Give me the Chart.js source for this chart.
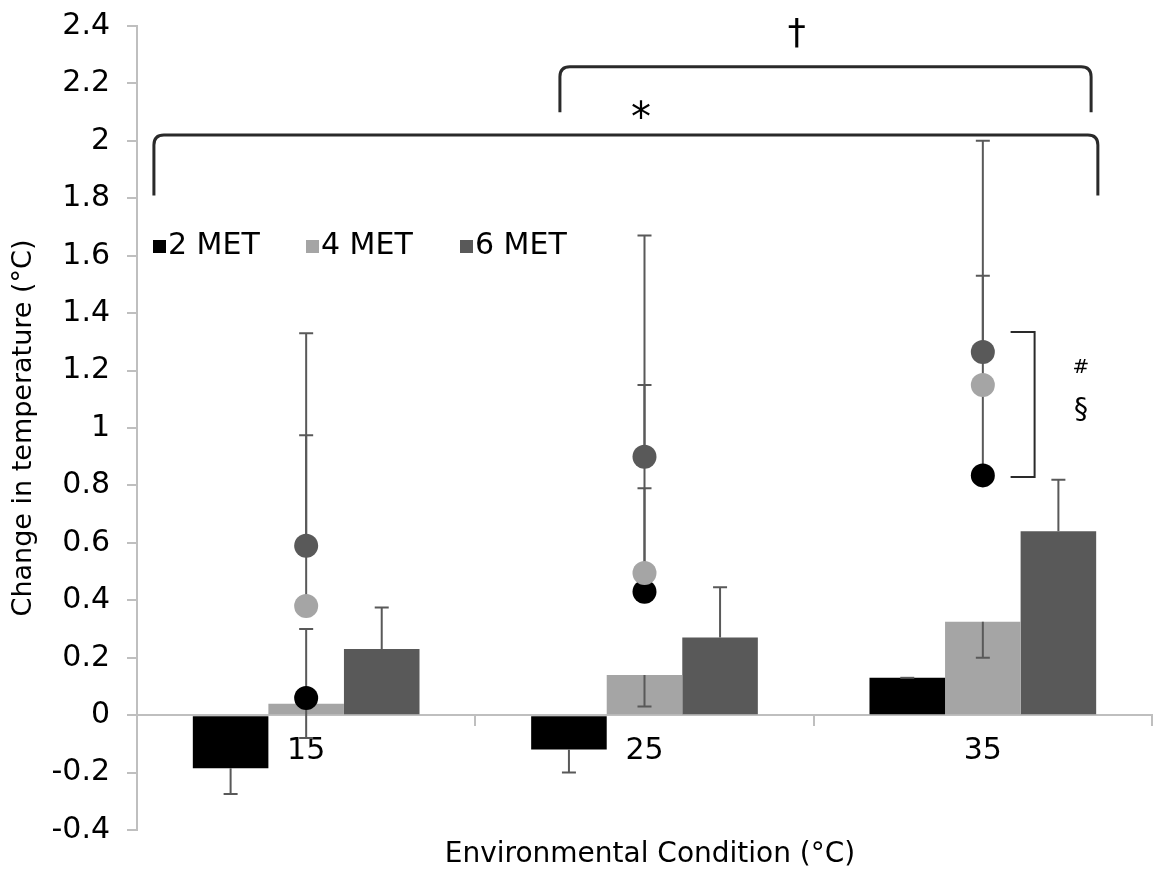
<!DOCTYPE html>
<html>
<head>
<meta charset="utf-8">
<script src="https://cdn.jsdelivr.net/npm/chart.js@4.4.1/dist/chart.umd.min.js"></script>
<style>
  body { margin: 0; background: #fff; }
  #wrap { width: 1164px; height: 872px; position: relative; }
</style>
</head>
<body>
<div id="wrap"><canvas id="chartOne"></canvas></div>
<script>
const conditions = ['15', '25', '35'];
const seriesNames = ['2 MET', '4 MET', '6 MET'];

// bars (mean change) and the end of each bar's error bar
const bar2 = [-0.185, -0.12, 0.13];
const bar4 = [0.04, 0.14, 0.325];
const bar6 = [0.23, 0.27, 0.64];
const bar2ErrEnd = [-0.275, -0.20, 0.13];
const bar4ErrEnd = [-0.08, 0.03, 0.20];
const bar6ErrEnd = [0.375, 0.445, 0.82];

// circles and the end of each circle's error bar
const dot2 = [0.06, 0.43, 0.835];
const dot4 = [0.38, 0.495, 1.15];
const dot6 = [0.59, 0.90, 1.265];
const dot2ErrEnd = [0.30, 0.79, 1.13];
const dot4ErrEnd = [0.975, 1.15, 1.53];
const dot6ErrEnd = [1.33, 1.67, 2.0];

const yTicks = [-0.4, -0.2, 0, 0.2, 0.4, 0.6, 0.8, 1, 1.2, 1.4, 1.6, 1.8, 2, 2.2, 2.4];

const colors = ['#000000', '#a5a5a5', '#595959'];
const FONT = "'DejaVu Sans', sans-serif";

Chart.defaults.font.family = FONT;
Chart.defaults.color = '#000';

const bars = [bar2, bar4, bar6];
const barErr = [bar2ErrEnd, bar4ErrEnd, bar6ErrEnd];
const dots = [dot2, dot4, dot6];
const dotErr = [dot2ErrEnd, dot4ErrEnd, dot6ErrEnd];

const datasets = [];
bars.forEach((d, i) => {
    datasets.push({
        type: 'bar',
        label: seriesNames[i],
        data: d,
        backgroundColor: colors[i],
        barPercentage: 1,
        categoryPercentage: 0.67,
        order: 10,
    });
});
dots.forEach((d, i) => {
    datasets.push({
        type: 'line',
        label: seriesNames[i],
        data: d,
        showLine: false,
        pointRadius: 12,
        pointBackgroundColor: colors[i],
        pointBorderColor: colors[i],
        pointBorderWidth: 0,
        order: 3 - i,
    });
});

function drawErr(ctx, x, y0, y1) {
    ctx.beginPath();
    ctx.moveTo(x, y0);
    ctx.lineTo(x, y1);
    ctx.moveTo(x - 7, y1);
    ctx.lineTo(x + 7, y1);
    ctx.stroke();
}

const errorBars = {
    id: 'errorBars',
    beforeDatasetDraw(chart, args) {
        if (args.index !== 3) return;
        const ctx = chart.ctx;
        const y = chart.scales.y;
        ctx.save();
        ctx.strokeStyle = '#595959';
        ctx.lineWidth = 2;
        barErr.forEach((ends, i) => {
            const meta = chart.getDatasetMeta(i);
            ends.forEach((v, j) => {
                drawErr(ctx, meta.data[j].x, y.getPixelForValue(bars[i][j]), y.getPixelForValue(v));
            });
        });
        dotErr.forEach((ends, i) => {
            const meta = chart.getDatasetMeta(3 + i);
            ends.forEach((v, j) => {
                drawErr(ctx, meta.data[j].x, y.getPixelForValue(dots[i][j]), y.getPixelForValue(v));
            });
        });
        ctx.restore();
    },
};

function bracket(ctx, xl, xr, yTop, yEnd) {
    const r = 10;
    ctx.beginPath();
    ctx.moveTo(xl, yEnd);
    ctx.quadraticCurveTo(xl, yTop + r * 2, xl, yTop + r);
    ctx.quadraticCurveTo(xl, yTop, xl + r, yTop);
    ctx.lineTo(xr - r, yTop);
    ctx.quadraticCurveTo(xr, yTop, xr, yTop + r);
    ctx.lineTo(xr, yEnd);
    ctx.stroke();
}

const extras = {
    id: 'extras',
    afterDraw(chart) {
        const ctx = chart.ctx;
        const x = chart.scales.x;
        const y = chart.scales.y;
        ctx.save();
        ctx.strokeStyle = '#2a2a2a';
        ctx.lineWidth = 3;

        // significance brackets
        bracket(ctx, x.getPixelForValue(-0.45), x.getPixelForValue(2.34), y.getPixelForValue(2.02), y.getPixelForValue(1.81));
        bracket(ctx, x.getPixelForValue(0.75), x.getPixelForValue(2.32), y.getPixelForValue(2.258), y.getPixelForValue(2.1));

        ctx.lineWidth = 2;
        const bx = x.getPixelForValue(2.153);
        const top = y.getPixelForValue(1.334);
        const bot = y.getPixelForValue(0.829);
        ctx.beginPath();
        ctx.moveTo(bx - 24, top);
        ctx.lineTo(bx, top);
        ctx.lineTo(bx, bot);
        ctx.lineTo(bx - 24, bot);
        ctx.stroke();

        ctx.fillStyle = '#000';
        ctx.textAlign = 'center';
        ctx.textBaseline = 'middle';
        ctx.font = '40px ' + FONT;
        ctx.fillText('*', x.getPixelForValue(0.99), y.getPixelForValue(2.07));
        ctx.font = '36px ' + FONT;
        ctx.fillText('†', x.getPixelForValue(1.45), y.getPixelForValue(2.37));
        ctx.font = '20px ' + FONT;
        ctx.fillText('#', x.getPixelForValue(2.29), y.getPixelForValue(1.21));
        ctx.font = '28px ' + FONT;
        ctx.fillText('§', x.getPixelForValue(2.29), y.getPixelForValue(1.06));

        // legend
        ctx.textAlign = 'left';
        ctx.font = '30px ' + FONT;
        const lx = [153, 306, 460];
        seriesNames.forEach((name, i) => {
            ctx.fillStyle = colors[i];
            ctx.fillRect(lx[i], 240, 13, 13);
            ctx.fillStyle = '#000';
            ctx.fillText(name, lx[i] + 15, 246);
        });

        // x axis title
        ctx.textAlign = 'center';
        ctx.font = '28px ' + FONT;
        ctx.fillText('Environmental Condition (°C)', 650, 855);
        ctx.restore();
    },
};

new Chart(document.getElementById('chartOne').getContext('2d'), {
    type: 'bar',
    data: { labels: conditions, datasets: datasets },
    plugins: [errorBars, extras],
    options: {
        responsive: true,
        maintainAspectRatio: false,
        animation: false,
        layout: { padding: { top: 26, right: 9, bottom: 42, left: 0 } },
        plugins: { legend: { display: false }, tooltip: { enabled: false } },
        scales: {
            x: {
                position: { y: 0 },
                grid: { drawOnChartArea: false, offset: true, tickLength: 10, color: '#bfbfbf', lineWidth: 2 },
                border: { color: '#bfbfbf', width: 2 },
                ticks: { font: { size: 30 }, color: '#000', padding: 8 },
            },
            y: {
                min: -0.4,
                max: 2.4,
                afterBuildTicks: s => { s.ticks = yTicks.map(v => ({ value: v })); },
                afterFit: s => { s.width = 137; s.paddingTop = 0; s.paddingBottom = 0; },
                grid: { drawOnChartArea: false, tickLength: 10, color: '#bfbfbf', lineWidth: 2 },
                border: { color: '#bfbfbf', width: 2 },
                ticks: { font: { size: 30 }, color: '#000', padding: 17, callback: v => String(Math.round(v * 10) / 10) },
                title: { display: true, text: 'Change in temperature (°C)', font: { size: 27 }, color: '#000', padding: { top: 8, bottom: 0 } },
            },
        },
    },
});
</script>
</body>
</html>
